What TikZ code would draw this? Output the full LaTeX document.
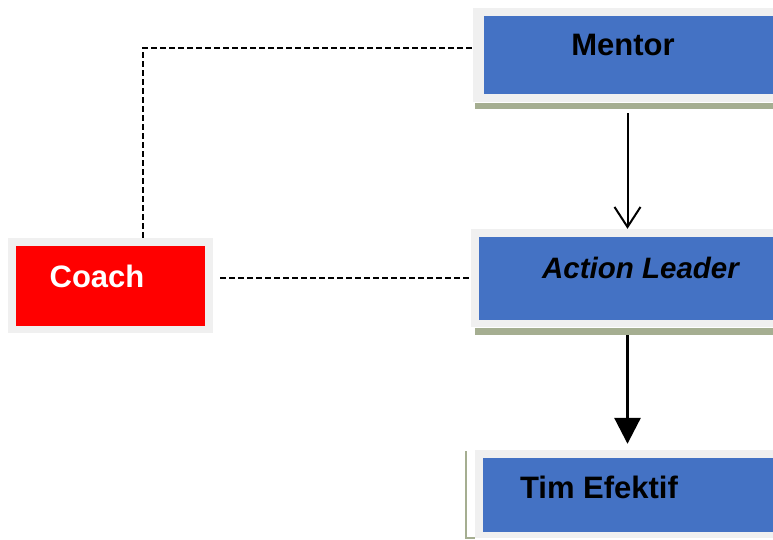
\documentclass[tikz,border=0pt]{standalone}
\usepackage{fontspec}
\setmainfont{Liberation Sans}
\usepackage{tikz}
\usetikzlibrary{arrows.meta,positioning,calc}

\definecolor{framegray}{RGB}{240,240,240}
\definecolor{boxblue}{RGB}{68,114,196}
\definecolor{coachred}{RGB}{255,0,0}
\definecolor{barolive}{RGB}{165,174,145}

\begin{document}
\begin{tikzpicture}[
x=1pt, y=-1pt,
frame-node/.style = {rectangle, fill=framegray, inner sep=0pt},
box-node/.style = {rectangle, fill=boxblue, inner sep=0pt},
bar-node/.style = {rectangle, fill=barolive, inner sep=0pt},
label-node/.style = {inner sep=0pt, font=\fontsize{31}{37}\selectfont\bfseries},
dash-link/.style = {line width=1.2pt, dash pattern=on 6pt off 3pt},
thin-arrow/.style = {line width=2pt, -{Straight Barb[length=20pt,width=26pt]}},
thick-arrow/.style = {line width=3pt, -{Triangle[length=26pt,width=26pt]}}
]
\useasboundingbox (0,0) rectangle (773,539);

\node [frame-node, minimum width=307pt, minimum height=94pt] (mentor-frame) at (626.5, 55) {};
\node [box-node, minimum width=289pt, minimum height=78pt] (mentor) at (628.5, 55) {};
\node [bar-node, minimum width=305pt, minimum height=6pt] (mentor-bar) at (627.5, 106) {};

\node [frame-node, minimum width=309pt, minimum height=98pt] (leader-frame) at (625.5, 278) {};
\node [box-node, minimum width=294pt, minimum height=83pt] (leader) at (626, 278.5) {};
\node [bar-node, minimum width=305pt, minimum height=7pt] (leader-bar) at (627.5, 331.5) {};

\node [frame-node, minimum width=305pt, minimum height=88pt] (tim-frame) at (627.5, 494) {};
\node [box-node, minimum width=290pt, minimum height=74pt] (tim) at (628, 495) {};
\draw [barolive, line width=1.5pt] (466, 451) -- (466, 538) -- (475, 538);

\node [frame-node, minimum width=205pt, minimum height=95pt] (coach-frame) at (110.5, 285.5) {};
\node [box-node, fill=coachred, minimum width=189pt, minimum height=80pt] (coach) at (110.5, 286) {};

% labels
\node [label-node] (mentor-text) at (623, 44.5) {Mentor};
\node [label-node, font=\fontsize{29.5}{35}\selectfont\bfseries\itshape] (leader-text) at (640.5, 267.5) {Action Leader};
\node [label-node] (tim-text) at (599, 487) {Tim Efektif};
\node [label-node, text=white] (coach-text) at (97, 276) {Coach};

% arrows
\draw[thin-arrow] ([yshift=-4pt]mentor-bar.south) -- (mentor-bar.south |- leader-frame.north);
\draw[thick-arrow, shorten >=6pt] (leader-bar.south) -- (leader-bar.south |- tim-frame.north);

% dashed links
\coordinate (corner) at (143, 48);
\draw[dash-link] (corner |- coach-frame.north) -- (corner) -- (corner -| mentor-frame.west);
\draw[dash-link, shorten <=7pt] (coach-frame.east |- leader-frame.west) -- (leader-frame.west);

\end{tikzpicture}
\end{document}
